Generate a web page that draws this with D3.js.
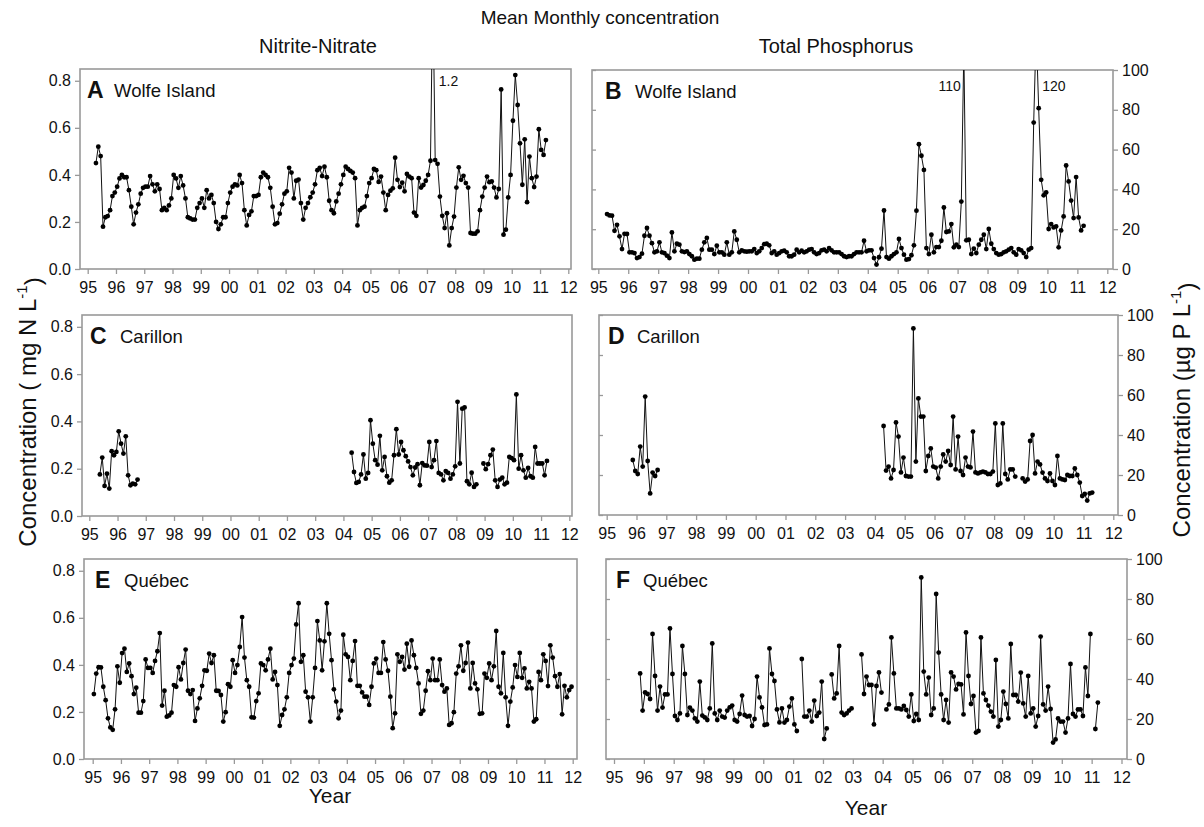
<!DOCTYPE html>
<html><head><meta charset="utf-8">
<script src="https://cdn.jsdelivr.net/npm/d3@7"></script>
<style>body{margin:0;background:#fff}svg{display:block}text{font-family:"Liberation Sans",Arial,sans-serif;fill:#111}</style>
</head><body><svg id="c" width="1204" height="827"></svg>
<script>
// ---------------- DATA ----------------
const years = d3.range(1995, 2013);
const nitrateTicks = [0, 0.2, 0.4, 0.6, 0.8];
const phosTicks = [0, 20, 40, 60, 80, 100];

// Wolfe Island nitrite-nitrate (mg N/L), monthly from Apr 1995
const wolfeNO3Start = [1995, 4];
const wolfeNO3 = [.45,.52,.48,.18,.22,.225,.25,.31,.325,.35,
.385,.40,.39,.39,.335,.265,.19,.24,.275,.32,
.345,.35,.35,.395,.36,.33,.36,.34,.25,.26,
.25,.27,.30,.40,.385,.345,.395,.355,.30,.22,
.215,.21,.21,.26,.28,.30,.26,.335,.30,.315,
.28,.20,.17,.19,.22,.22,.28,.325,.35,.36,
.355,.40,.365,.25,.185,.23,.245,.31,.31,.315,
.39,.41,.40,.39,.345,.265,.19,.195,.235,.275,
.32,.33,.43,.41,.30,.375,.38,.28,.21,.26,
.28,.305,.325,.36,.42,.43,.395,.435,.39,.29,
.25,.237,.287,.32,.36,.40,.435,.425,.417,.41,
.386,.185,.25,.26,.265,.31,.365,.386,.425,.42,
.37,.393,.325,.25,.315,.333,.343,.473,.379,.348,
.367,.33,.404,.393,.386,.24,.226,.386,.346,.357,
.375,.40,.46,1.2,.463,.447,.308,.226,.174,.237,
.10,.174,.223,.346,.432,.379,.396,.365,.346,.153,
.15,.15,.16,.25,.308,.346,.393,.369,.372,.346,
.304,.34,.763,.146,.167,.304,.40,.63,.824,.697,
.534,.358,.551,.284,.478,.386,.348,.393,.594,.506,
.485,.548];

// Wolfe Island total phosphorus (ug P/L), monthly from Apr 1995
const wolfeTPStart = [1995, 4];
const wolfeTP = [27.6,26.9,26.8,19.2,22.2,16.4,10.0,17.7,17.6,8.4,
8.4,8.0,5.5,6.0,7.7,16.7,20.6,16.7,13.0,8.4,
8.9,13.4,8.4,8.0,6.7,5.5,18.4,8.9,12.7,12.2,
8.9,8.5,8.9,7.5,6.4,4.7,5.2,5.2,9.7,13.4,
15.6,9.7,9.7,7.5,11.7,8.4,8.4,7.2,13.4,7.2,
8.4,18.9,14.7,8.4,9.4,8.9,8.7,8.9,8.9,10.0,
8.0,8.9,10.5,12.5,12.7,11.9,8.0,8.9,7.2,8.0,
8.9,9.2,8.4,6.4,6.4,7.2,9.7,8.4,9.2,8.4,
8.9,9.7,10.0,8.4,7.5,8.0,9.4,9.7,8.9,10.5,
9.4,8.4,8.4,8.4,7.5,6.4,6.0,6.4,6.4,7.5,
8.4,8.4,8.4,14.2,8.9,9.4,9.4,5.5,2.2,5.9,
10.2,29.4,6.0,5.2,6.4,7.5,8.4,15.1,10.5,7.2,
4.7,5.0,6.9,11.9,29.3,62.7,56.9,49.8,10.5,7.5,
17.2,8.4,11.0,11.0,14.2,30.9,18.6,18.9,22.6,10.9,
12.2,11.0,33.9,110,14.4,14.7,7.5,10.2,8.0,12.2,
14.7,17.2,10.0,20.1,12.7,10.0,8.0,7.2,7.5,8.4,
8.9,9.7,10.5,8.4,7.2,10.0,9.4,8.0,6.0,9.7,
10.5,73.6,120,80.8,44.8,37.0,38.5,20.1,22.6,20.9,
21.4,10.9,19.4,26.4,52.0,44.0,34.4,25.6,46.2,25.9,
19.4,21.7];

// Carillon nitrite-nitrate, three monthly segments
const carillonNO3aStart = [1995, 5];
const carillonNO3a = [.176,.247,.127,.179,.116,.274,.257,.271,.358,.306,.264,.337,.172,.13,.137,.134,.154];
const carillonNO3bStart = [2004, 4];
const carillonNO3b = [.268,.186,.14,.144,.176,.26,.158,.182,.405,.306,.236,.217,.339,.193,.25,.168,.141,.151,
.257,.367,.26,.313,.278,.253,.231,.207,.172,.205,.219,.13,.224,.214,.213,.313,.207,.236,.317,.182,.176,
.151,.19,.182,.158,.176,.21,.483,.222,.454,.459,.147,.134,.183,.123,.134];
const carillonNO3cStart = [2008, 12];
const carillonNO3c = [.222,.198,.219,.257,.281,.151,.123,.154,.162,.134,.141,.25,.245,.236,.514,.20,.257,
.193,.162,.203,.168,.162,.292,.222,.222,.222,.172,.233];

// Carillon total phosphorus, three monthly segments
const carillonTPaStart = [1995, 11];
const carillonTPa = [27.5,22,20.5,34.2,24.2,59.2,27,10.8,21.2,19.5,22.5];
const carillonTPbStart = [2004, 4];
const carillonTPb = [44.5,22.2,24.2,18.3,22.5,46.3,39.2,21.3,28.7,19.5,19.2,19.2,93.3,26.7,58.3,49.2,49.2,
22,29.5,33.3,24.2,23.7,18.3,24.2,30.3,26.7,32,25,49.2,22.8,39.2,22,20,28.7,24.2,23.8,41.7,21.3,20.8,
21.3,21.7,21.3,20.5,20.5,21.7,45.8,15,15.8,45.8,20.5,17.8,22.8,22.8,19.2];
const carillonTPcStart = [2008, 12];
const carillonTPc = [18.3,16.7,17.8,37,40,20.8,26.7,25.3,21.2,18.3,17,20.8,17,15,29.5,18.3,17.8,17.5,20,
19.5,19.5,23.3,20,16.2,9.5,10.5,7.2,10.8,11.2];

// Quebec nitrite-nitrate, monthly from Jan 1995
const quebecNO3Start = [1995, 1];
const quebecNO3 = [.276,.363,.39,.389,.307,.25,.173,.134,.124,.211,
.394,.324,.45,.469,.37,.406,.352,.276,.303,.197,
.197,.246,.423,.387,.387,.366,.417,.458,.535,.227,
.29,.18,.185,.197,.314,.307,.39,.338,.408,.465,
.29,.276,.293,.162,.215,.258,.311,.377,.375,.448,
.408,.441,.29,.289,.272,.159,.199,.318,.307,.42,
.366,.399,.476,.603,.431,.335,.307,.177,.176,.246,
.279,.406,.399,.377,.423,.469,.338,.37,.314,.141,
.187,.211,.262,.366,.399,.427,.572,.662,.413,.441,
.286,.262,.159,.262,.387,.586,.504,.377,.50,.662,
.532,
.42,.296,.244,.173,.206,.528,.445,.434,.335,.417,
.501,.311,.311,.283,.265,.265,.23,.307,.406,.427,
.366,.366,.497,.423,.375,.265,.131,.194,.445,.413,
.434,.38,.49,.392,.504,.441,.387,.321,.192,.206,
.29,.373,.335,.427,.335,.335,.423,.314,.286,.30,
.145,.152,.199,.363,.394,.483,.375,.408,.495,.30,
.408,.321,.296,.192,.194,.363,.345,.406,.335,.394,
.544,.307,.279,.451,.262,.141,.244,.304,.399,.349,
.451,.345,.385,.30,.328,.30,.159,.169,.37,.335,
.445,.417,.31,.483,.431,.352,.307,.361,.19,.311,
.262,.293,.307];

// Quebec total phosphorus, monthly segments
const quebecTPaStart = [1995, 11];
const quebecTPa = [42.8,24.2,33.3,32.5,30,62.5,41.5,24.2,36.2,25.7,32.3,32.3,65.3,42.5,21.5,19.5,22.8,56.5,
42.5,22,25.7,24.2,20.3,18.7,38.7,21.7,20.8,19.5,25.3,57.8,22.8,19.5,24.2,21.2,20.7,24.2,25.8,26.7,19.5,
18.7,22.5,31.7,22,21.2,21.5,16.5,20,41.2,30.8,25.8,17,17.3,55.3,42.5,39,24.8,18.3,25.3,18.2,19.5,26.2,
30.3,17.3,14];
const quebecTPbStart = [2001, 4];
const quebecTPb = [50,21.2,21.2,24.2,18.7,29.2,21.5,23.2,38.7,10,15.3];
const quebecTPcStart = [2002, 4];
const quebecTPc = [42.3,30.3,32.8,56.5,23.2,22,22.8,24.2,25.3];
const quebecTPdStart = [2003, 4];
const quebecTPd = [52.3,32.5,41.2,37,37,17.3,36.5,43.3,33.2];
const quebecTPeStart = [2004, 2];
const quebecTPe = [24.8,27.3,60.8,42.8,25.3,25.3,24.8,26.5,24.5,21.2,32.3,19,22.5,19.5,90.8,43.7,32.3,40.7,
22,25.3,82.5,53.2,32.3,19.5,29.5,18.2,43.3,41.2,34.8,37.5,37.3,22.3,63.3,41.5,27.5,31.5,13.2,14,60.8,32.8,
29.5,26.7,23.7,21.2,49.5,16.2,19.5,33.7,27.5,20.3,57.5,32,32,28.7,43.2,27.8,21.2,41.5,22.8,25.3,16.2,21.5,
61.2,27.3,24.2,36.2,25,8.2,9.8,20.3,18.7,18.7,13.2,20.3,47.5,22.5,21.2,24.8,24.8,21.5,45.8,31.5,62.5];
const quebecTPfStart = [2011, 2];
const quebecTPf = [15, 28.2];

// ---------------- LAYOUT ----------------
function seg(start, vals) {
  return vals.map((v, i) => ({ t: start[0] + (start[1] - 1 + i + 0.5) / 12, v }));
}
const panels = [
  { letter: "A", name: "Wolfe Island", box: [80, 571, 69, 269], p95: 87.7, p12: 568.3, kind: "n", lx: 7, nx: 34,
    segs: [seg(wolfeNO3Start, wolfeNO3)], notes: [{ side: 1 }] },
  { letter: "B", name: "Wolfe Island", box: [592, 1113, 70, 269], p95: 598.3, p12: 1107.3, kind: "p", lx: 13, nx: 43,
    segs: [seg(wolfeTPStart, wolfeTP)], notes: [{ side: -1 }, { side: 1 }] },
  { letter: "C", name: "Carillon", box: [82, 572, 315, 516], p95: 89.3, p12: 569.3, kind: "n", lx: 8, nx: 38,
    segs: [seg(carillonNO3aStart, carillonNO3a), seg(carillonNO3bStart, carillonNO3b), seg(carillonNO3cStart, carillonNO3c)] },
  { letter: "D", name: "Carillon", box: [599, 1118, 315, 515], p95: 606.7, p12: 1113.3, kind: "p", lx: 9, nx: 38,
    segs: [seg(carillonTPaStart, carillonTPa), seg(carillonTPbStart, carillonTPb), seg(carillonTPcStart, carillonTPc)] },
  { letter: "E", name: "Québec", box: [84, 577, 559, 759], p95: 92.7, p12: 572.7, kind: "n", lx: 11, nx: 40,
    segs: [seg(quebecNO3Start, quebecNO3)] },
  { letter: "F", name: "Québec", box: [606, 1127, 559, 759], p95: 614, p12: 1121.5, kind: "p", lx: 10, nx: 37,
    segs: [seg(quebecTPaStart, quebecTPa), seg(quebecTPbStart, quebecTPb), seg(quebecTPcStart, quebecTPc),
           seg(quebecTPdStart, quebecTPd), seg(quebecTPeStart, quebecTPe), seg(quebecTPfStart, quebecTPf)] }
];

const svg = d3.select("#c");
const AX = "#999";
const TICKFS = "16px";

panels.forEach((p, pi) => {
  const [x0, x1, y0, y1] = p.box;
  const x = d3.scaleLinear().domain([1995, 2012]).range([p.p95, p.p12]);
  const yMax = p.kind === "n" ? 0.85 : 100;
  const y = d3.scaleLinear().domain([0, yMax]).range([y1, y0]);
  const g = svg.append("g");

  const cid = "clip" + pi;
  svg.append("clipPath").attr("id", cid).append("rect")
    .attr("x", x0).attr("y", y0).attr("width", x1 - x0).attr("height", y1 - y0);

  g.append("g").attr("transform", `translate(0,${y1})`)
    .call(d3.axisBottom(x).tickValues(years).tickSize(5).tickPadding(8)
      .tickFormat(d => String(d % 100).padStart(2, "0")));
  if (p.kind === "n") {
    g.append("g").attr("transform", `translate(${x0},0)`)
      .call(d3.axisLeft(y).tickValues(nitrateTicks).tickSize(5).tickPadding(4).tickFormat(d3.format(".1f")));
  } else {
    g.append("g").attr("transform", `translate(${x1},0)`)
      .call(d3.axisRight(y).tickValues(phosTicks).tickSize(5).tickPadding(4).tickFormat(d3.format("d")));
    g.append("g").attr("transform", `translate(${x0},0)`)
      .call(d3.axisRight(y).tickValues(phosTicks).tickSize(4).tickFormat(""));
  }
  g.selectAll(".domain").remove();
  g.selectAll(".tick line").attr("stroke", AX).attr("stroke-width", 1.3);
  g.selectAll(".tick text").style("font-size", TICKFS).attr("fill", "#222");

  g.append("rect").attr("x", x0).attr("y", y0).attr("width", x1 - x0).attr("height", y1 - y0)
    .attr("fill", "none").attr("stroke", AX).attr("stroke-width", 1.6);

  const line = d3.line().x(d => x(d.t)).y(d => y(d.v));
  const dg = g.append("g").attr("clip-path", `url(#${cid})`);
  p.segs.forEach(s => {
    dg.append("path").datum(s).attr("d", line).attr("fill", "none")
      .attr("stroke", "#111").attr("stroke-width", 1);
    dg.selectAll(null).data(s.filter(d => d.v <= yMax)).enter().append("circle")
      .attr("cx", d => x(d.t)).attr("cy", d => y(d.v)).attr("r", 2.4).attr("fill", "#000");
  });

  if (p.notes) {
    const over = p.segs.flat().filter(d => d.v > yMax);
    over.forEach((d, i) => {
      const side = p.notes[i].side;
      g.append("text").attr("x", x(d.t) + (side > 0 ? 6 : -3)).attr("y", y0 + (p.kind === "n" ? 17 : 21))
        .attr("text-anchor", side > 0 ? "start" : "end").style("font-size", "14px")
        .text(d.v > 10 ? d3.format("d")(d.v) : d3.format(".1f")(d.v));
    });
  }

  g.append("text").attr("x", x0 + p.lx).attr("y", y0 + 29).style("font-size", "23px").style("font-weight", "bold").text(p.letter);
  g.append("text").attr("x", x0 + p.nx).attr("y", y0 + 28).style("font-size", "18.5px").text(p.name);
});

svg.append("text").attr("x", 600).attr("y", 24).attr("text-anchor", "middle").style("font-size", "19px").text("Mean Monthly concentration");
svg.append("text").attr("x", 318).attr("y", 53).attr("text-anchor", "middle").style("font-size", "20px").text("Nitrite-Nitrate");
svg.append("text").attr("x", 836).attr("y", 53).attr("text-anchor", "middle").style("font-size", "20px").text("Total Phosphorus");

function yTitle(cx, cy, pre) {
  const t = svg.append("text").attr("transform", `translate(${cx},${cy}) rotate(-90)`)
    .attr("text-anchor", "middle").style("font-size", "24px");
  t.append("tspan").text(pre);
  t.append("tspan").attr("dy", "-0.6em").style("font-size", "15px").text("-1");
  t.append("tspan").attr("dy", "0.6em").text(")");
}
yTitle(36, 412, "Concentration ( mg N L");
yTitle(1190, 410, "Concentration (µg P L");
svg.append("text").attr("x", 330).attr("y", 803).attr("text-anchor", "middle").style("font-size", "21px").text("Year");
svg.append("text").attr("x", 866).attr("y", 815).attr("text-anchor", "middle").style("font-size", "21px").text("Year");
</script></body></html>
